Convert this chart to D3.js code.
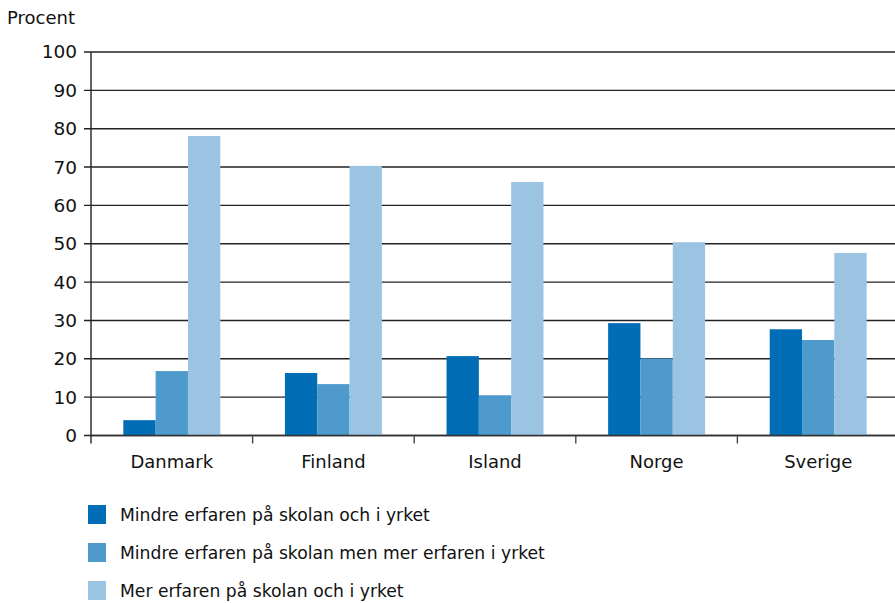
<!DOCTYPE html>
<html><head><meta charset="utf-8">
<script src="https://cdn.jsdelivr.net/npm/d3@7"></script>
<style>body{margin:0;background:#fff}svg{display:block;font-family:"DejaVu Sans",sans-serif}</style>
</head><body>
<svg id="c" width="895" height="603"></svg>
<script>
const categories = ["Danmark","Finland","Island","Norge","Sverige"];
const seriesNames = ["Mindre erfaren på skolan och i yrket","Mindre erfaren på skolan men mer erfaren i yrket","Mer erfaren på skolan och i yrket"];
const series1 = [4.0, 16.3, 20.7, 29.3, 27.7];
const series2 = [16.8, 13.4, 10.5, 20.1, 24.9];
const series3 = [78.1, 70.3, 66.1, 50.4, 47.6];
const yTicks = [0,10,20,30,40,50,60,70,80,90,100];
const colors = ["#006db6","#4e9acc","#9bc4e3"];
const yLabel = "Procent";

(function(){
const svg = d3.select("#c");
const mLeft = 91, mRight = 899, mTop = 52, mBottom = 435.5;
const x = d3.scaleBand().domain(categories).range([mLeft, mRight]).paddingInner(0.4).paddingOuter(0.2);
const xs = d3.scaleBand().domain([0,1,2]).range([0, x.bandwidth()]);
const y = d3.scaleLinear().domain([0,100]).range([mBottom, mTop]);
const data = [series1, series2, series3];

svg.append("g").selectAll("line").data(yTicks).join("line")
  .attr("x1", mLeft - 7).attr("x2", 895)
  .attr("y1", d => y(d)).attr("y2", d => y(d))
  .attr("stroke", "#222").attr("stroke-width", 1.4);

svg.append("g").selectAll("text").data(yTicks).join("text")
  .attr("x", 77).attr("y", d => y(d)).attr("dy", "0.35em")
  .attr("text-anchor", "end").attr("font-size", 18.5).attr("fill", "#111")
  .text(d => d);

categories.forEach((c, i) => {
  svg.append("g").selectAll("rect").data(data.map((s, k) => ({k, v: s[i]}))).join("rect")
    .attr("x", d => x(c) + xs(d.k)).attr("width", xs.bandwidth())
    .attr("y", d => y(d.v)).attr("height", d => mBottom - y(d.v))
    .attr("fill", d => colors[d.k]);
});

svg.append("line").attr("x1", mLeft).attr("x2", 895).attr("y1", mBottom).attr("y2", mBottom)
  .attr("stroke", "#333").attr("stroke-width", 1.4);
svg.append("line").attr("x1", mLeft).attr("x2", mLeft).attr("y1", mTop).attr("y2", mBottom + 8)
  .attr("stroke", "#222").attr("stroke-width", 1.4);
svg.append("g").selectAll("line").data(categories.slice(1)).join("line")
  .attr("x1", d => x(d) - x.step() * 0.2).attr("x2", d => x(d) - x.step() * 0.2)
  .attr("y1", mBottom).attr("y2", mBottom + 8)
  .attr("stroke", "#444").attr("stroke-width", 1.4);

svg.append("g").selectAll("text").data(categories).join("text")
  .attr("x", d => x(d) + x.bandwidth() / 2).attr("y", 468)
  .attr("text-anchor", "middle").attr("font-size", 18).attr("fill", "#111")
  .text(d => d);

svg.append("text").attr("x", 7).attr("y", 24).attr("font-size", 18).attr("fill", "#111").text(yLabel);

const lg = svg.append("g").selectAll("g").data(seriesNames).join("g")
  .attr("transform", (d, i) => `translate(88, ${505 + i * 38})`);
lg.append("rect").attr("width", 18).attr("height", 19).attr("fill", (d, i) => colors[i]);
lg.append("text").attr("x", 32).attr("y", 10).attr("dy", "0.35em").attr("font-size", 17.2).attr("fill", "#111").text(d => d);
})();
</script>
</body></html>
